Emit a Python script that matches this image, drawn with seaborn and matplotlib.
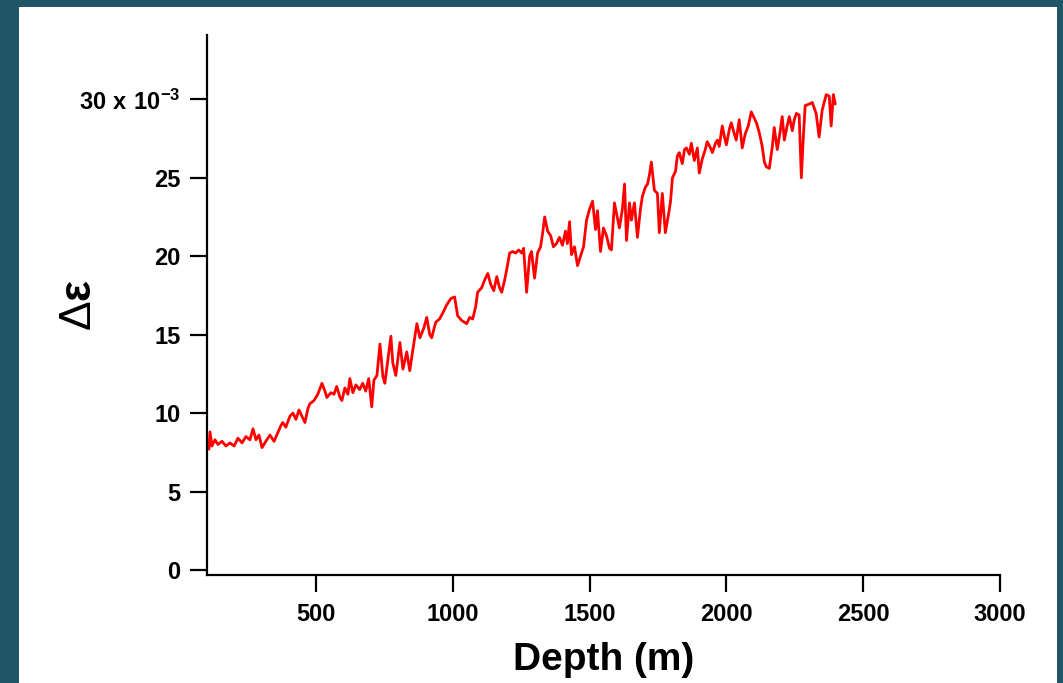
import matplotlib
matplotlib.use("Agg")
import matplotlib.pyplot as plt
import seaborn as sns
import pandas as pd
from matplotlib.patches import Rectangle

depth_m = [109, 113, 120, 131, 142, 157, 171, 186, 201, 215, 230, 244, 259, 270, 281, 292, 303, 317,
           332, 347, 357, 372, 379, 390, 405, 416, 427, 438, 449, 460, 471, 478, 493, 507, 522, 533,
           540, 555, 566, 576, 588, 595, 606, 617, 624, 635, 646, 660, 671, 682, 693, 704, 712, 723,
           734, 745, 752, 763, 774, 781, 792, 807, 818, 832, 843, 854, 869, 880, 894, 905, 916, 923,
           938, 952, 967, 978, 993, 1007, 1018, 1033, 1051, 1062, 1073, 1084, 1091, 1106, 1117, 1128,
           1139, 1150, 1161, 1171, 1179, 1190, 1201, 1208, 1219, 1230, 1241, 1252, 1259, 1270, 1281,
           1288, 1299, 1310, 1321, 1328, 1336, 1347, 1358, 1368, 1379, 1390, 1401, 1412, 1419, 1427,
           1434, 1445, 1456, 1467, 1478, 1489, 1500, 1511, 1522, 1529, 1540, 1551, 1562, 1573, 1580,
           1591, 1602, 1609, 1620, 1628, 1635, 1646, 1653, 1664, 1675, 1686, 1693, 1704, 1712, 1719,
           1726, 1737, 1748, 1755, 1766, 1777, 1788, 1796, 1803, 1814, 1821, 1828, 1839, 1847, 1854,
           1865, 1872, 1883, 1894, 1901, 1912, 1923, 1930, 1942, 1949, 1960, 1967, 1974, 1985, 1993,
           2000, 2011, 2018, 2029, 2036, 2047, 2058, 2069, 2080, 2091, 2102, 2110, 2120, 2131, 2139,
           2146, 2157, 2168, 2175, 2186, 2197, 2204, 2212, 2222, 2230, 2241, 2248, 2256, 2266, 2274,
           2281, 2288, 2303, 2314, 2328, 2339, 2350, 2365, 2376, 2383, 2391, 2398]

delta_eps_1e3 = [7.7, 8.8, 7.9, 8.3, 8.0, 8.2, 7.9, 8.1, 7.9, 8.4, 8.1, 8.5, 8.3, 9.0, 8.3, 8.6, 7.8, 8.2,
                 8.6, 8.2, 8.6, 9.2, 9.4, 9.1, 9.8, 10.0, 9.6, 10.2, 9.8, 9.4, 10.3, 10.6, 10.8, 11.2, 11.9, 11.4,
                 11.0, 11.3, 11.2, 11.7, 11.0, 10.8, 11.6, 11.2, 12.2, 11.3, 11.8, 11.5, 11.9, 11.4, 12.2, 10.4, 12.1, 12.4,
                 14.4, 12.3, 11.9, 13.4, 14.9, 13.2, 12.4, 14.5, 12.8, 13.9, 12.7, 14.0, 15.7, 14.8, 15.4, 16.1, 15.0, 14.8,
                 15.8, 16.0, 16.5, 16.9, 17.3, 17.4, 16.2, 15.9, 15.7, 16.1, 16.0, 16.8, 17.7, 18.0, 18.5, 18.9,
                 18.2, 17.8, 18.7, 18.0, 17.7, 18.5, 19.5, 20.2, 20.3, 20.2, 20.4, 20.2, 20.5, 17.7, 20.0,
                 20.3, 18.6, 20.2, 20.6, 21.4, 22.5, 21.6, 21.3, 20.6, 20.8, 21.2, 20.7, 21.6, 20.8, 22.2,
                 20.1, 20.6, 19.4, 20.0, 20.6, 22.3, 23.0, 23.5, 21.7, 22.9, 20.3, 21.8, 21.3, 20.5, 20.4,
                 23.4, 22.4, 21.8, 23.0, 24.6, 21.0, 23.4, 22.3, 23.4, 21.2, 23.0, 23.8, 24.4, 24.6, 25.2,
                 26.0, 24.2, 24.0, 21.5, 24.0, 21.5, 22.6, 23.5, 25.0, 25.4, 26.4, 26.6, 25.9, 26.8, 26.9,
                 26.5, 27.2, 26.1, 26.9, 25.3, 26.2, 26.8, 27.3, 26.9, 26.6, 27.2, 27.4, 27.0, 28.3, 27.6,
                 27.1, 28.1, 28.5, 27.8, 27.4, 28.7, 26.9, 27.8, 28.3, 29.2, 28.8, 28.5, 27.9, 27.0, 26.0,
                 25.7, 25.6, 27.0, 28.2, 26.8, 28.0, 28.9, 27.4, 28.3, 28.9, 28.0, 28.7, 29.1, 29.0, 25.0,
                 27.5, 29.6, 29.7, 29.8, 29.1, 27.6, 29.3, 30.3, 30.2, 28.3, 30.3, 29.7]

x_ticks = [500, 1000, 1500, 2000, 2500, 3000]
y_ticks = [0, 5, 10, 15, 20, 25, 30]
y_tick_labels = ["0", "5", "10", "15", "20", "25", r"$\mathbf{30\ x\ 10^{-3}}$"]
x_label = "Depth (m)"
y_label = r"Δ$\mathbf{ε}$"

sns.set_style("ticks")
plt.rcParams["font.family"] = ["Liberation Sans", "DejaVu Sans"]
plt.rcParams["mathtext.fontset"] = "custom"
plt.rcParams["mathtext.bf"] = "Liberation Sans:bold"
plt.rcParams["mathtext.rm"] = "Liberation Sans"
for k in ["text.color", "axes.labelcolor", "xtick.color", "ytick.color", "axes.edgecolor"]:
    plt.rcParams[k] = "black"

fig = plt.figure(figsize=(10.63, 6.83), dpi=100, facecolor="#1f5566")
fig.patches.append(Rectangle((19 / 1063, 0), (1057 - 19) / 1063, (683 - 7) / 683,
                             transform=fig.transFigure, facecolor="white", edgecolor="none", zorder=-1))
ax = fig.add_axes([207 / 1063, (683 - 575) / 683, (1000 - 207) / 1063, (575 - 35) / 683])
ax.set_zorder(1)
ax.patch.set_alpha(0)

df = pd.DataFrame({"depth": depth_m, "de": delta_eps_1e3})
sns.lineplot(data=df, x="depth", y="de", ax=ax, color="#ff0000", linewidth=2.0,
             estimator=None, sort=False)

ax.set_xlim(102, 3000)
ax.set_ylim(-0.32, 34.1)
ax.set_xticks(x_ticks)
ax.set_xticklabels([str(t) for t in x_ticks], fontsize=17, fontweight="bold")
ax.set_yticks(y_ticks)
ax.set_yticklabels(y_tick_labels, fontsize=17, fontweight="bold")

for s in ["top", "right"]:
    ax.spines[s].set_visible(False)
for s in ["left", "bottom"]:
    ax.spines[s].set_linewidth(1.6)
    ax.spines[s].set_color("black")
ax.tick_params(axis="both", direction="out", length=12, width=1.6, color="black")
ax.tick_params(axis="x", pad=8)
ax.tick_params(axis="y", pad=7)

ax.set_xlabel(x_label, fontsize=28, fontweight="bold")
ax.xaxis.set_label_coords(0.5, -0.125)
ax.xaxis.label.set_va("top")
ax.set_ylabel(y_label, fontsize=32)
ax.yaxis.set_label_coords(-0.135, 0.5)

fig.savefig("out.png", dpi=100, facecolor=fig.get_facecolor())
